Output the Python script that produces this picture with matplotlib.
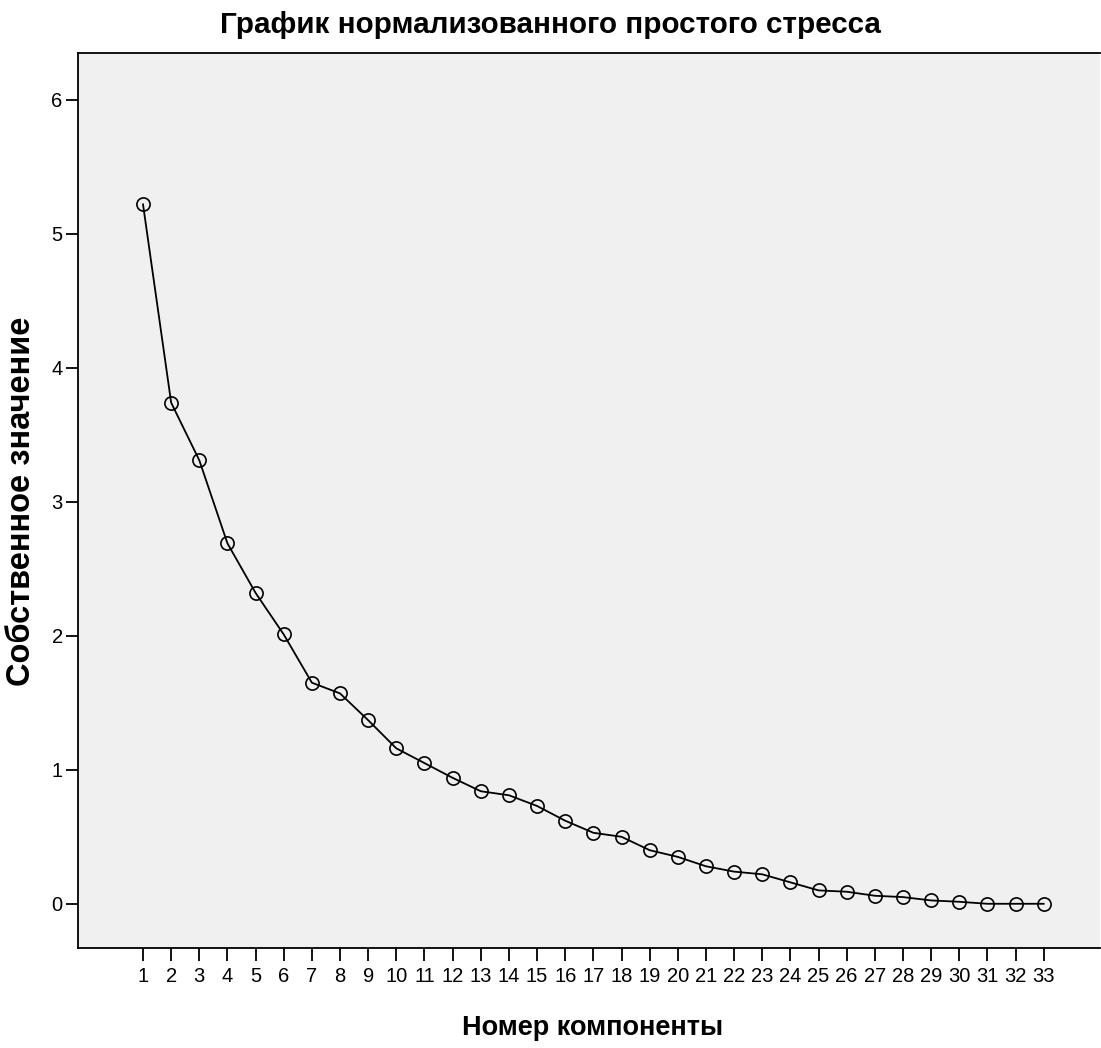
"""Scree plot (normalized simple stress)."""
import matplotlib
matplotlib.use("Agg")
import matplotlib.pyplot as plt

components = list(range(1, 34))
eigenvalues = [5.22, 3.74, 3.31, 2.69, 2.32, 2.01, 1.65, 1.57, 1.37, 1.16,
               1.05, 0.94, 0.84, 0.81, 0.73, 0.62, 0.53, 0.50, 0.40, 0.35,
               0.28, 0.24, 0.22, 0.16, 0.10, 0.09, 0.06, 0.05, 0.025, 0.015,
               0.0, 0.0, 0.0]
y_ticks = [0, 1, 2, 3, 4, 5, 6]

title = "График нормализованного простого стресса"
xlabel = "Номер компоненты"
ylabel = "Собственное значение"

plt.rcParams["font.family"] = ["Liberation Sans", "DejaVu Sans"]

fig = plt.figure(figsize=(11.01, 10.48), dpi=100)
ax = fig.add_axes([78 / 1101, 1 - 948 / 1048, 1022 / 1101, 895 / 1048])
ax.set_facecolor("#f0f0f0")

ax.plot(components, eigenvalues, color="black", linewidth=1.3,
        marker="o", markersize=9.5, markerfacecolor="none",
        markeredgecolor="black", markeredgewidth=1.2)

ax.set_xlim(-1.31, 35.0)
ax.set_ylim(-0.33, 6.35)
ax.set_xticks(components)
ax.set_xticklabels([str(c) for c in components])
ax.set_yticks(y_ticks)
ax.tick_params(direction="out", length=9, width=1.3, labelsize=14.5,
               colors="black")
ax.tick_params(axis="x", pad=5)
ax.tick_params(axis="y", pad=2)
for side in ["left", "bottom", "top"]:
    ax.spines[side].set_linewidth(1.3)
ax.spines["right"].set_visible(False)

fig.text(0.4995, 1 - 25 / 1048, title, ha="center", va="center",
         fontsize=21.3, fontweight="bold")
fig.text(593 / 1101, 1 - 1028 / 1048, xlabel, ha="center", va="center",
         fontsize=19.5, fontweight="bold")
fig.text(22 / 1101, 1 - 501 / 1048, ylabel, ha="center", va="center",
         rotation=90, fontsize=23.5, fontweight="bold")

fig.savefig("out.png", dpi=100)
